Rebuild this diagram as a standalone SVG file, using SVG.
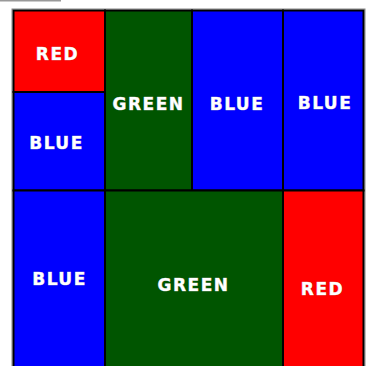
<svg xmlns="http://www.w3.org/2000/svg" width="370" height="366" viewBox="0 0 370 366">
<style>
.cell{stroke:#000;stroke-width:2}
.r{fill:#ff0000}.b{fill:#0000ff}.g{fill:#005500}
text{font-family:"DejaVu Sans","Verdana",sans-serif;font-weight:bold;font-size:17px;letter-spacing:1.5px;fill:#ffffff;text-anchor:middle;stroke:#bbbbbb;stroke-width:0.6;paint-order:stroke}
</style>
<rect x="0" y="0" width="61" height="1.5" fill="#999"/>
<rect x="12" y="9" width="353" height="370" fill="none" stroke="#888" stroke-width="1"/>
<g id="red-top-left"><rect class="cell r" x="13.5" y="10.5" width="91.5" height="81.5"/><text x="57.5" y="59.5">RED</text></g>
<g id="blue-left"><rect class="cell b" x="13.5" y="92" width="91.5" height="98.5"/><text x="56.5" y="148.5">BLUE</text></g>
<g id="green-top"><rect class="cell g" x="105" y="10.5" width="87" height="180"/><text x="148.5" y="110">GREEN</text></g>
<g id="blue-mid"><rect class="cell b" x="192" y="10.5" width="91" height="180"/><text x="237" y="110">BLUE</text></g>
<g id="blue-right"><rect class="cell b" x="283" y="10.5" width="80.5" height="180"/><text x="325" y="109">BLUE</text></g>
<g id="blue-bottom-left"><rect class="cell b" x="13.5" y="190.5" width="91.5" height="190"/><text x="59.5" y="284.5">BLUE</text></g>
<g id="green-bottom"><rect class="cell g" x="105" y="190.5" width="178" height="190"/><text x="193.5" y="290.5">GREEN</text></g>
<g id="red-bottom-right"><rect class="cell r" x="283" y="190.5" width="80.5" height="190"/><text x="322.5" y="294.5">RED</text></g>
<g id="connectors"></g>
</svg>
